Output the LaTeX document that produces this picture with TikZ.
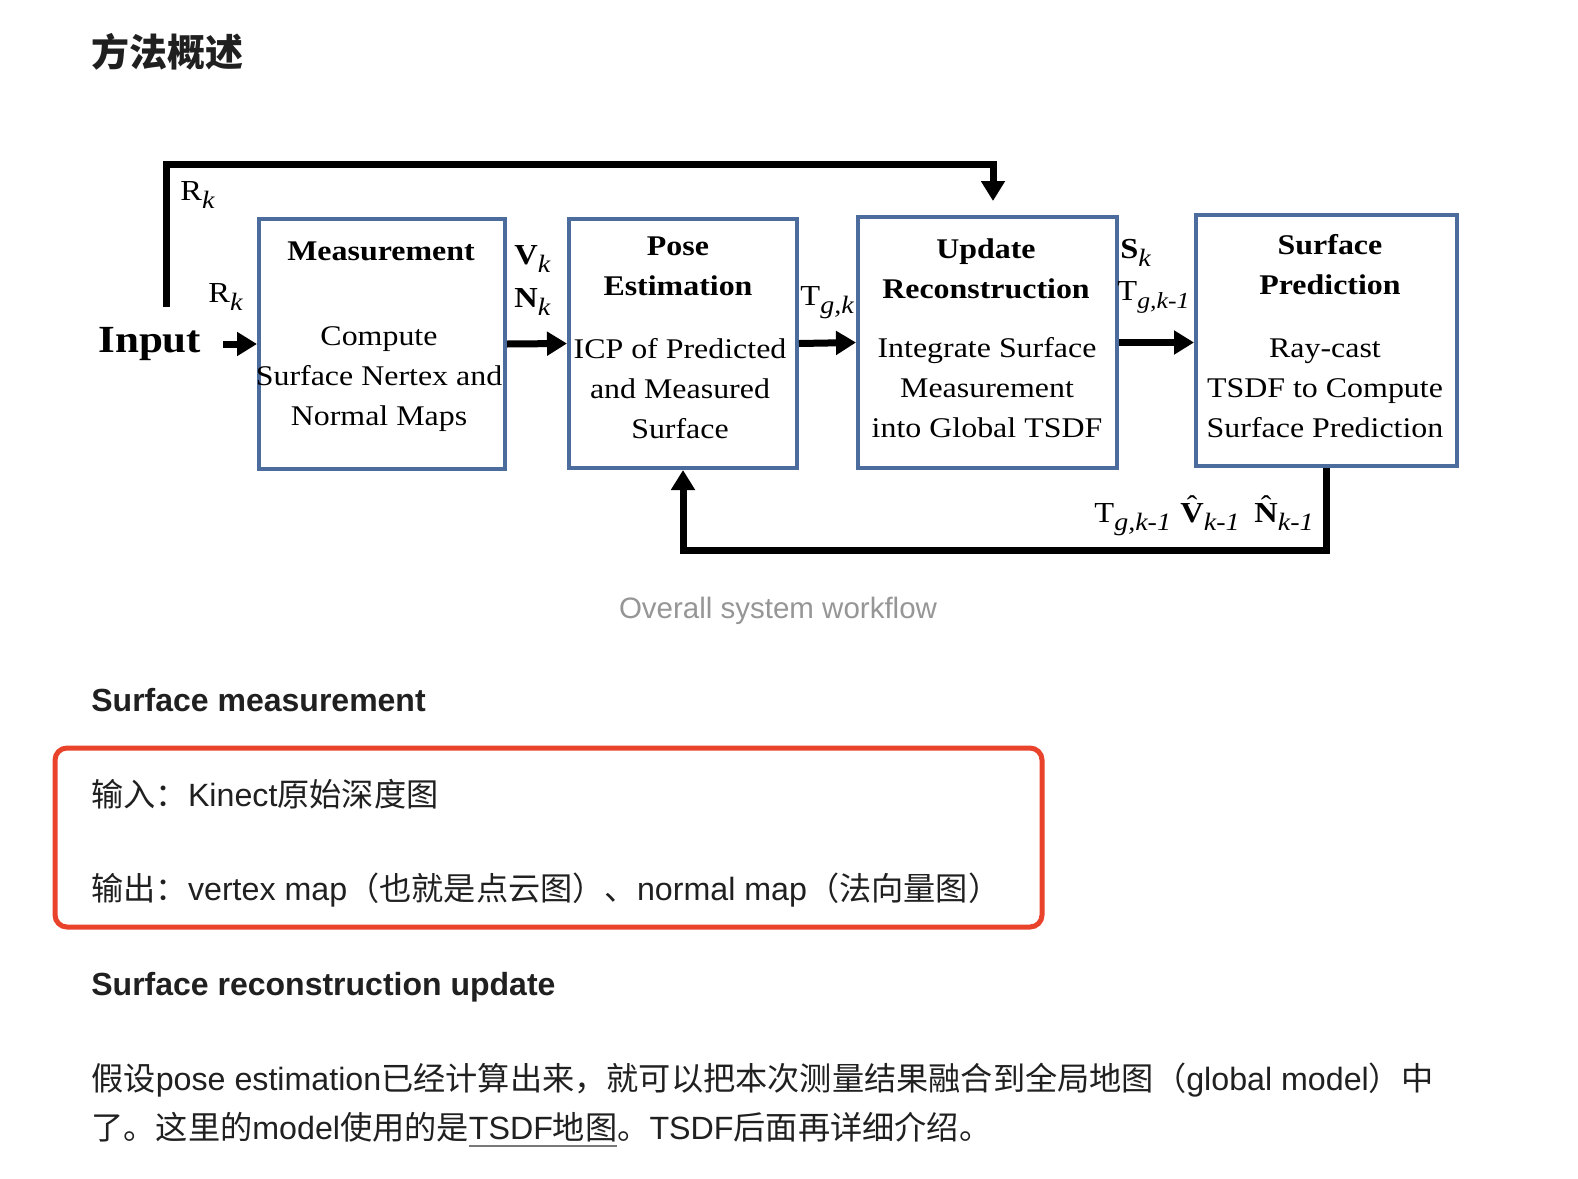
\documentclass[tikz,border=0pt]{standalone}
\usepackage{fontspec}
\usetikzlibrary{arrows.meta}
\newfontfamily\cjk{Noto Sans CJK SC}
\newfontfamily\lat{Liberation Sans}
\newfontfamily\diag[FakeStretch=1.12]{Liberation Serif}
\definecolor{boxblue}{RGB}{77,108,158}
\definecolor{redline}{RGB}{233,67,44}
\definecolor{capgray}{RGB}{150,150,150}
\definecolor{bodyink}{RGB}{32,32,32}
\definecolor{ulgray}{RGB}{120,120,120}
\newcommand\sbx[1]{\raisebox{-4.2pt}{\fontsize{12.5pt}{12.5pt}\selectfont\itshape #1}}
\newcommand\sbxs[1]{\raisebox{-4.2pt}{\fontsize{11.5pt}{11.5pt}\selectfont\itshape #1}}
\newcommand\hatl[1]{\setbox0\hbox{#1}\rlap{\hbox to\wd0{\hss\raisebox{3.2pt}{\normalfont\diag\fontsize{14.25pt}{16pt}\selectfont\char"02C6}\hss}}\box0}
\newcommand\gul[1]{\setbox0\hbox{#1}\rlap{\color{ulgray}\rule[-4pt]{\wd0}{1pt}}\box0}
\begin{document}
\begin{tikzpicture}[x=0.5pt,y=-0.5pt,
  blk/.style={draw=boxblue, line width=2pt, inner sep=0pt},
  btitle/.style={align=center, inner sep=0pt, font=\diag\bfseries\fontsize{14.25pt}{20pt}\selectfont},
  bbody/.style={align=center, inner sep=0pt, font=\diag\fontsize{14.25pt}{20pt}\selectfont},
  lbl/.style={anchor=base west, inner sep=0pt, font=\diag\fontsize{14.5pt}{16pt}\selectfont},
  flow/.style={line width=3.5pt, -{Triangle[length=10pt,width=11.5pt]}},
  body/.style={anchor=base west, inner sep=0pt, text=bodyink, font=\cjk\fontsize{16.1pt}{16.1pt}\selectfont},
  head/.style={anchor=base west, inner sep=0pt, text=bodyink, font=\lat\bfseries\fontsize{16pt}{16pt}\selectfont}
]
\useasboundingbox (0,0) rectangle (1578,1178);
\fill[white] (0,0) rectangle (1578,1178);

% title
\node[anchor=base west, inner sep=0pt, text=bodyink, font=\cjk\bfseries\fontsize{19pt}{19pt}\selectfont] (title) at (91,66) {方法概述};

% boxes
\node[blk, minimum width=123pt, minimum height=125pt] (meas) at (382,344) {};
\node[blk, minimum width=114pt, minimum height=124.5pt] (pose) at (683,343.5) {};
\node[blk, minimum width=129.5pt, minimum height=125.5pt] (upd) at (987.5,342.5) {};
\node[blk, minimum width=130.5pt, minimum height=125.5pt] (surf) at (1326.5,340.5) {};

% box texts
\node[btitle] (measT) at (381,251.6) {Measurement};
\node[bbody] (measB) at (379,379.4) {Compute\\Surface Nertex and\\Normal Maps};
\node[btitle] (poseT) at (678,266.2) {Pose\\Estimation};
\node[bbody] (poseB) at (680,388.5) {ICP of Predicted\\and Measured\\Surface};
\node[btitle] (updT) at (986,269.2) {Update\\Reconstruction};
\node[bbody] (updB) at (987,387.5) {Integrate Surface\\Measurement\\into Global TSDF};
\node[btitle] (surfT) at (1330,264.7) {Surface\\Prediction};
\node[bbody] (surfB) at (1325,388.5) {Ray-cast\\TSDF to Compute\\Surface Prediction};

% labels
\node[lbl] (rkTop) at (180,200) {R\sbx{k}};
\node[lbl] (rkIn) at (208,302) {R\sbx{k}};
\node[anchor=base west, inner sep=0pt, font=\diag\bfseries\fontsize{19.2pt}{20pt}\selectfont] (input) at (98,352) {Input};
\node[lbl] (vk) at (514,264) {\textbf{V}\sbx{k}};
\node[lbl] (nk) at (514,307) {\textbf{N}\sbx{k}};
\node[lbl] (tgk) at (800,305) {T\sbx{g,k}};
\node[lbl] (sk) at (1120,258) {\textbf{S}\sbx{k}};
\node[lbl] (tgk1) at (1117,300) {T\sbxs{g,k-1}};
\node[lbl] (tgb) at (1094,522) {T\sbx{g,k-1}};
\node[lbl] (vh) at (1180,522) {\hatl{\textbf{V}}\sbx{k-1}};
\node[lbl] (nh) at (1254,522) {\hatl{\textbf{N}}\sbx{k-1}};

% connectors
\coordinate (inA) at (223,344);
\coordinate (topStart) at (166,307);
\coordinate (topCorner) at (166,164);
\draw[flow] (inA) -- (meas.west);
\draw[flow] (meas.east) -- (pose.west);
\draw[flow] (pose.east) -- (upd.west);
\draw[flow] (upd.east) -- (upd.east -| surf.west);
\draw[flow, shorten >=7pt] (topStart) -- (topCorner) -| ([xshift=2.75pt]upd.north);
\draw[flow] (surf.south) -- ++(0,82) -| (pose.south);

% caption
\node[anchor=base, inner sep=0pt, text=capgray, font=\lat\fontsize{14.75pt}{15pt}\selectfont] (cap) at (778,618) {Overall system workflow};

% section 1
\node[head] (h1) at (91,711) {Surface measurement};
\node[draw=redline, line width=2.5pt, rounded corners=6pt, minimum width=493.5pt, minimum height=89.5pt, inner sep=0pt] (redbox) at (548.5,837.5) {};
\node[body] (in1) at (91,806) {输入：{\lat Kinect}原始深度图};
\node[body] (out1) at (91,900) {输出：{\lat vertex map}（也就是点云图）、{\lat normal map}（法向量图）};

% section 2
\node[head] (h2) at (91,995) {Surface reconstruction update};
\node[body] (p1) at (91,1090) {假设{\lat pose estimation}已经计算出来，就可以把本次测量结果融合到全局地图（{\lat global model}）中};
\node[body] (p2) at (91,1139) {了。这里的{\lat model}使用的是\gul{{\lat TSDF}地图}。{\lat TSDF}后面再详细介绍。};
\end{tikzpicture}
\end{document}
